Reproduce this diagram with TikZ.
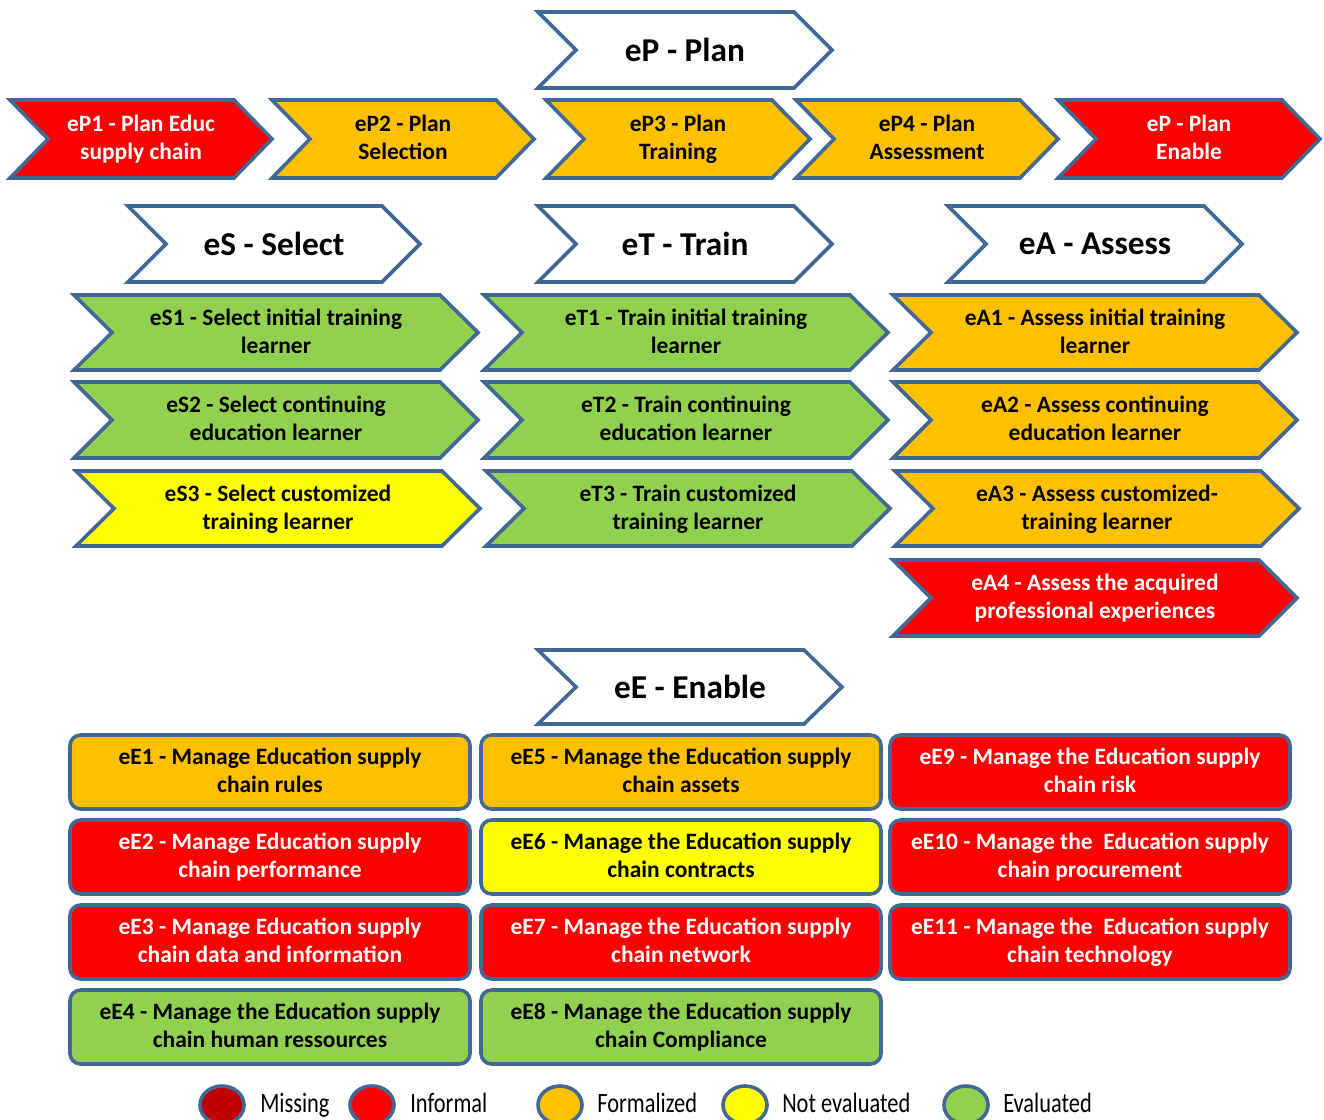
\documentclass[tikz,border=0pt]{standalone}
\usepackage{fontspec}
\setmainfont{Carlito}
\definecolor{bordc}{RGB}{66,104,150}
\definecolor{cred}{RGB}{255,0,0}
\definecolor{cora}{RGB}{255,192,0}
\definecolor{cyel}{RGB}{255,255,0}
\definecolor{cgrn}{RGB}{146,208,80}
\definecolor{cdred}{RGB}{192,0,0}
\tikzset{
  chevline/.style={draw=bordc, line width=2.7pt, line join=miter},
  boxline/.style={draw=bordc, line width=2.7pt, rounded corners=8pt},
  bodytxt/.style={font=\fontsize{17.6pt}{21pt}\selectfont\bfseries, align=center, text=black,
     yshift=-2.2pt, execute at begin node=\strut, execute at end node=\strut},
  bodywht/.style={bodytxt, text=white},
  headtxt/.style={font=\fontsize{25pt}{30pt}\selectfont\bfseries, align=center, text=black},
  legtxt/.style={anchor=base west, inner sep=0pt, font=\fontsize{21pt}{24pt}\selectfont},
  legdot/.style={draw=bordc, line width=2.7pt}
}
% #1 name, #2 x left, #3 y top, #4 width, #5 height, #6 fill, #7 text style, #8 text
\newcommand{\chevbox}[8]{%
  \draw[chevline, fill=#6] (#2,#3) -- ++(#4-38,0) -- ++(38,#5/2) -- ++(-38,#5/2)
     -- ++(-#4+38,0) -- ++(38,-#5/2) -- cycle;
  \node[#7] (#1) at ({#2+#4/2},{#3+#5/2}) {#8};
}
% rounded box: #1 name, #2 x left, #3 y top, #4 fill, #5 text style, #6 text
\newcommand{\rbox}[6]{%
  \draw[boxline, fill=#4] (#2,#3) rectangle ++(400,74);
  \node[#5] (#1) at ({#2+200},{#3+37}) {#6};
}
\begin{document}
\begin{tikzpicture}[x=0.75pt,y=-0.75pt]
\useasboundingbox (0,0) rectangle (1324,1120);
\fill[white] (0,0) rectangle (1324,1120);
% headers
\chevbox{hP}{538}{12}{294}{76}{white}{headtxt}{eP - Plan}
\chevbox{hS}{128}{206}{292}{76}{white}{headtxt}{eS - Select}
\chevbox{hT}{538}{206}{294}{76}{white}{headtxt}{eT - Train}
\chevbox{hA}{948}{206}{294}{76}{white}{headtxt}{eA - Assess}
\chevbox{hE}{538}{650}{304}{74}{white}{headtxt}{eE - Enable}
% plan row
\chevbox{p1}{10}{100}{262}{78}{cred}{bodywht}{eP1 - Plan Educ\\supply chain}
\chevbox{p2}{272}{100}{262}{78}{cora}{bodytxt}{eP2 - Plan\\Selection}
\chevbox{p3}{546}{100}{264}{78}{cora}{bodytxt}{eP3 - Plan\\Training}
\chevbox{p4}{796}{100}{262}{78}{cora}{bodytxt}{eP4 - Plan\\Assessment}
\chevbox{p5}{1058}{100}{262}{78}{cred}{bodywht}{eP - Plan\\Enable}
% select
\chevbox{s1}{74}{295}{404}{75}{cgrn}{bodytxt}{eS1 - Select initial training\\learner}
\chevbox{s2}{74}{382}{404}{76}{cgrn}{bodytxt}{eS2 - Select continuing\\education learner}
\chevbox{s3}{76}{471}{404}{75}{cyel}{bodytxt}{eS3 - Select customized\\training learner}
% train
\chevbox{t1}{484}{295}{404}{75}{cgrn}{bodytxt}{eT1 - Train initial training\\learner}
\chevbox{t2}{484}{382}{404}{76}{cgrn}{bodytxt}{eT2 - Train continuing\\education learner}
\chevbox{t3}{486}{471}{404}{75}{cgrn}{bodytxt}{eT3 - Train customized\\training learner}
% assess
\chevbox{a1}{893}{295}{404}{75}{cora}{bodytxt}{eA1 - Assess initial training\\learner}
\chevbox{a2}{893}{382}{404}{76}{cora}{bodytxt}{eA2 - Assess continuing\\education learner}
\chevbox{a3}{895}{471}{404}{75}{cora}{bodytxt}{eA3 - Assess customized-\\training learner}
\chevbox{a4}{893}{560}{404}{76}{cred}{bodywht}{eA4 - Assess the acquired\\professional experiences}
% enable boxes
\rbox{e1}{70}{735}{cora}{bodytxt}{eE1 - Manage Education supply\\chain rules}
\rbox{e2}{70}{820}{cred}{bodywht}{eE2 - Manage Education supply\\chain performance}
\rbox{e3}{70}{905}{cred}{bodywht}{eE3 - Manage Education supply\\chain data and information}
\rbox{e4}{70}{990}{cgrn}{bodytxt}{eE4 - Manage the Education supply\\chain human ressources}
\rbox{e5}{481}{735}{cora}{bodytxt}{eE5 - Manage the Education supply\\chain assets}
\rbox{e6}{481}{820}{cyel}{bodytxt}{eE6 - Manage the Education supply\\chain contracts}
\rbox{e7}{481}{905}{cred}{bodywht}{eE7 - Manage the Education supply\\chain network}
\rbox{e8}{481}{990}{cgrn}{bodytxt}{eE8 - Manage the Education supply\\chain Compliance}
\rbox{e9}{890}{735}{cred}{bodywht}{eE9 - Manage the Education supply\\chain risk}
\rbox{e10}{890}{820}{cred}{bodywht}{eE10 - Manage the\ \ Education supply\\chain procurement}
\rbox{e11}{890}{905}{cred}{bodywht}{eE11 - Manage the\ \ Education supply\\chain technology}
% legend
\draw[legdot, fill=cdred] (222,1105) ellipse [x radius=22, y radius=19];
\node[legtxt] (lm) at (260,1112) {\scalebox{0.8}[1]{Missing}};
\draw[legdot, fill=cred] (372,1105) ellipse [x radius=22, y radius=19];
\node[legtxt] (li) at (410,1112) {\scalebox{0.8}[1]{Informal}};
\draw[legdot, fill=cora] (560,1105) ellipse [x radius=22, y radius=19];
\node[legtxt] (lf) at (597,1112) {\scalebox{0.8}[1]{Formalized}};
\draw[legdot, fill=cyel] (745,1105) ellipse [x radius=22, y radius=19];
\node[legtxt] (ln) at (782,1112) {\scalebox{0.8}[1]{Not evaluated}};
\draw[legdot, fill=cgrn] (966,1105) ellipse [x radius=22, y radius=19];
\node[legtxt] (le) at (1003,1112) {\scalebox{0.8}[1]{Evaluated}};
\end{tikzpicture}
\end{document}
